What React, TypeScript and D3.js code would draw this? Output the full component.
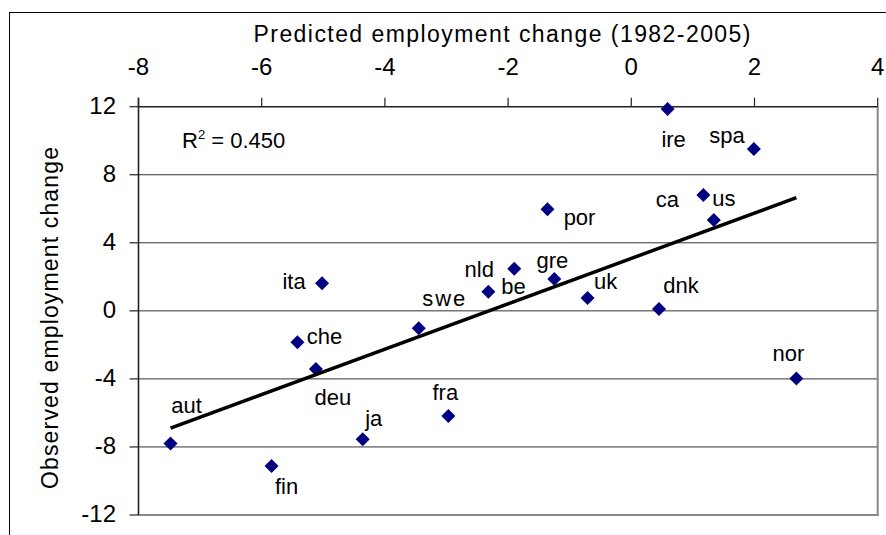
import React from "react";
import * as d3 from "d3";

// Country codes with predicted (x) and observed (y) employment change, 1982-2005
const countries = ["ire", "spa", "ca", "us", "por", "nld", "be", "gre", "uk", "dnk", "nor", "ita", "swe", "che", "deu", "aut", "fin", "ja", "fra"];
const predicted = [0.59, 1.99, 1.17, 1.34, -1.36, -1.9, -2.32, -1.25, -0.71, 0.45, 2.68, -5.02, -3.45, -5.42, -5.12, -7.48, -5.84, -4.36, -2.97];
const observed = [11.86, 9.51, 6.81, 5.34, 5.97, 2.48, 1.12, 1.87, 0.75, 0.11, -3.97, 1.62, -1.03, -1.85, -3.42, -7.79, -9.12, -7.55, -6.18];

const xTicks = [-8, -6, -4, -2, 0, 2, 4];
const yTicks = [12, 8, 4, 0, -4, -8, -12];
const rSquaredText = "0.450";

// Label placement (text centre x offset, baseline y offset) relative to each marker
const labelOffsets: Record<string, [number, number]> = {
  ire: [6, 38],
  spa: [-27, -6],
  ca: [-36, 12],
  us: [10, -14],
  por: [32, 16],
  nld: [-35, 8],
  be: [25, 2],
  gre: [-2, -11],
  uk: [18, -9],
  dnk: [22, -16],
  nor: [-8, -17],
  ita: [-28, 6],
  swe: [25, -22],
  che: [27, 2],
  deu: [17, 36],
  aut: [16, -30],
  fin: [15, 28],
  ja: [11, -13],
  fra: [-3, -16],
};

// Labels set with looser letter spacing
const labelWidths: Record<string, number> = { swe: 43 };

const FONT = "'Liberation Sans', Arial, sans-serif";

export default function App() {
  const width = 886;
  const height = 535;
  const x = d3.scaleLinear().domain([-8, 4]).range([138.5, 877.7]);
  const y = d3.scaleLinear().domain([-12, 12]).range([515, 106.7]);

  // Least-squares trend line across the observed range
  const n = predicted.length;
  const mx = d3.mean(predicted) as number;
  const my = d3.mean(observed) as number;
  let sxy = 0;
  let sxx = 0;
  for (let i = 0; i < n; i++) {
    sxy += (predicted[i] - mx) * (observed[i] - my);
    sxx += (predicted[i] - mx) ** 2;
  }
  const slope = sxy / sxx;
  const intercept = my - slope * mx;
  const [xmin, xmax] = d3.extent(predicted) as [number, number];
  const trend = d3.line<number>()
    .x((v) => x(v))
    .y((v) => y(intercept + slope * v))([xmin, xmax]);

  const diamond = d3.symbol().type(d3.symbolDiamond2).size(125)();

  const x0 = x(-8);
  const yTop = y(12);

  return (
    <svg
      width={width}
      height={height}
      style={{ position: "absolute", left: 0, top: 0, background: "#fff" }}
      fontFamily={FONT}
    >
      {/* chart area frame */}
      <rect x={9.5} y={12.5} width={900} height={560} fill="#fff" stroke="#000" strokeWidth={1} />

      {/* horizontal gridlines */}
      {yTicks.filter((t) => t !== 12 && t !== -12).map((t) => (
        <line key={`g${t}`} x1={x0} x2={x(4)} y1={y(t)} y2={y(t)} stroke="#333" strokeWidth={1} />
      ))}

      {/* plot area border (right and bottom) */}
      <line x1={x(4)} x2={x(4)} y1={yTop} y2={y(-12)} stroke="#888" strokeWidth={2} />
      <line x1={x0} x2={x(4) + 1} y1={y(-12)} y2={y(-12)} stroke="#888" strokeWidth={2} />

      {/* top x axis */}
      <line x1={x0} x2={x(4)} y1={yTop} y2={yTop} stroke="#222" strokeWidth={1.6} />
      {xTicks.map((t) => (
        <g key={`xt${t}`}>
          <line x1={x(t)} x2={x(t)} y1={yTop - 9} y2={yTop} stroke="#222" strokeWidth={1.2} />
          <text x={x(t)} y={75} textAnchor="middle" fontSize={24} fill="#000">{t}</text>
        </g>
      ))}

      {/* left y axis */}
      <line x1={x0} x2={x0} y1={yTop - 9} y2={y(-12)} stroke="#222" strokeWidth={1.6} />
      {yTicks.map((t) => (
        <g key={`yt${t}`}>
          <line x1={x0 - 9} x2={x0} y1={y(t)} y2={y(t)} stroke="#222" strokeWidth={1.2} />
          <text x={116} y={y(t) + 7} textAnchor="end" fontSize={24} fill="#000">{t}</text>
        </g>
      ))}

      {/* axis titles */}
      <text x={502} y={41.7} textAnchor="middle" fontSize={23} textLength={497} lengthAdjust="spacing" fill="#000">
        Predicted employment change (1982-2005)
      </text>
      <text
        transform={`translate(58,318) rotate(-90)`}
        textAnchor="middle"
        fontSize={23}
        textLength={342}
        lengthAdjust="spacing"
        fill="#000"
      >
        Observed employment change
      </text>

      {/* R squared annotation */}
      <text x={182} y={148} fontSize={22} fill="#000">
        R<tspan fontSize={13} dy={-9}>2</tspan>
        <tspan dy={9}> = {rSquaredText}</tspan>
      </text>

      {/* markers */}
      {countries.map((c, i) => (
        <path
          key={`p${c}`}
          d={diamond as string}
          transform={`translate(${x(predicted[i])},${y(observed[i])})`}
          fill="#000080"
        />
      ))}

      {/* trend line */}
      <path d={trend as string} fill="none" stroke="#000" strokeWidth={3.5} />

      {/* country labels */}
      {countries.map((c, i) => {
        const [dx, dy] = labelOffsets[c];
        const w = labelWidths[c];
        return (
          <text
            key={`l${c}`}
            x={x(predicted[i]) + dx}
            y={y(observed[i]) + dy}
            textAnchor="middle"
            fontSize={22}
            fill="#000"
            {...(w ? { textLength: w, lengthAdjust: "spacing" } : {})}
          >
            {c}
          </text>
        );
      })}
    </svg>
  );
}
